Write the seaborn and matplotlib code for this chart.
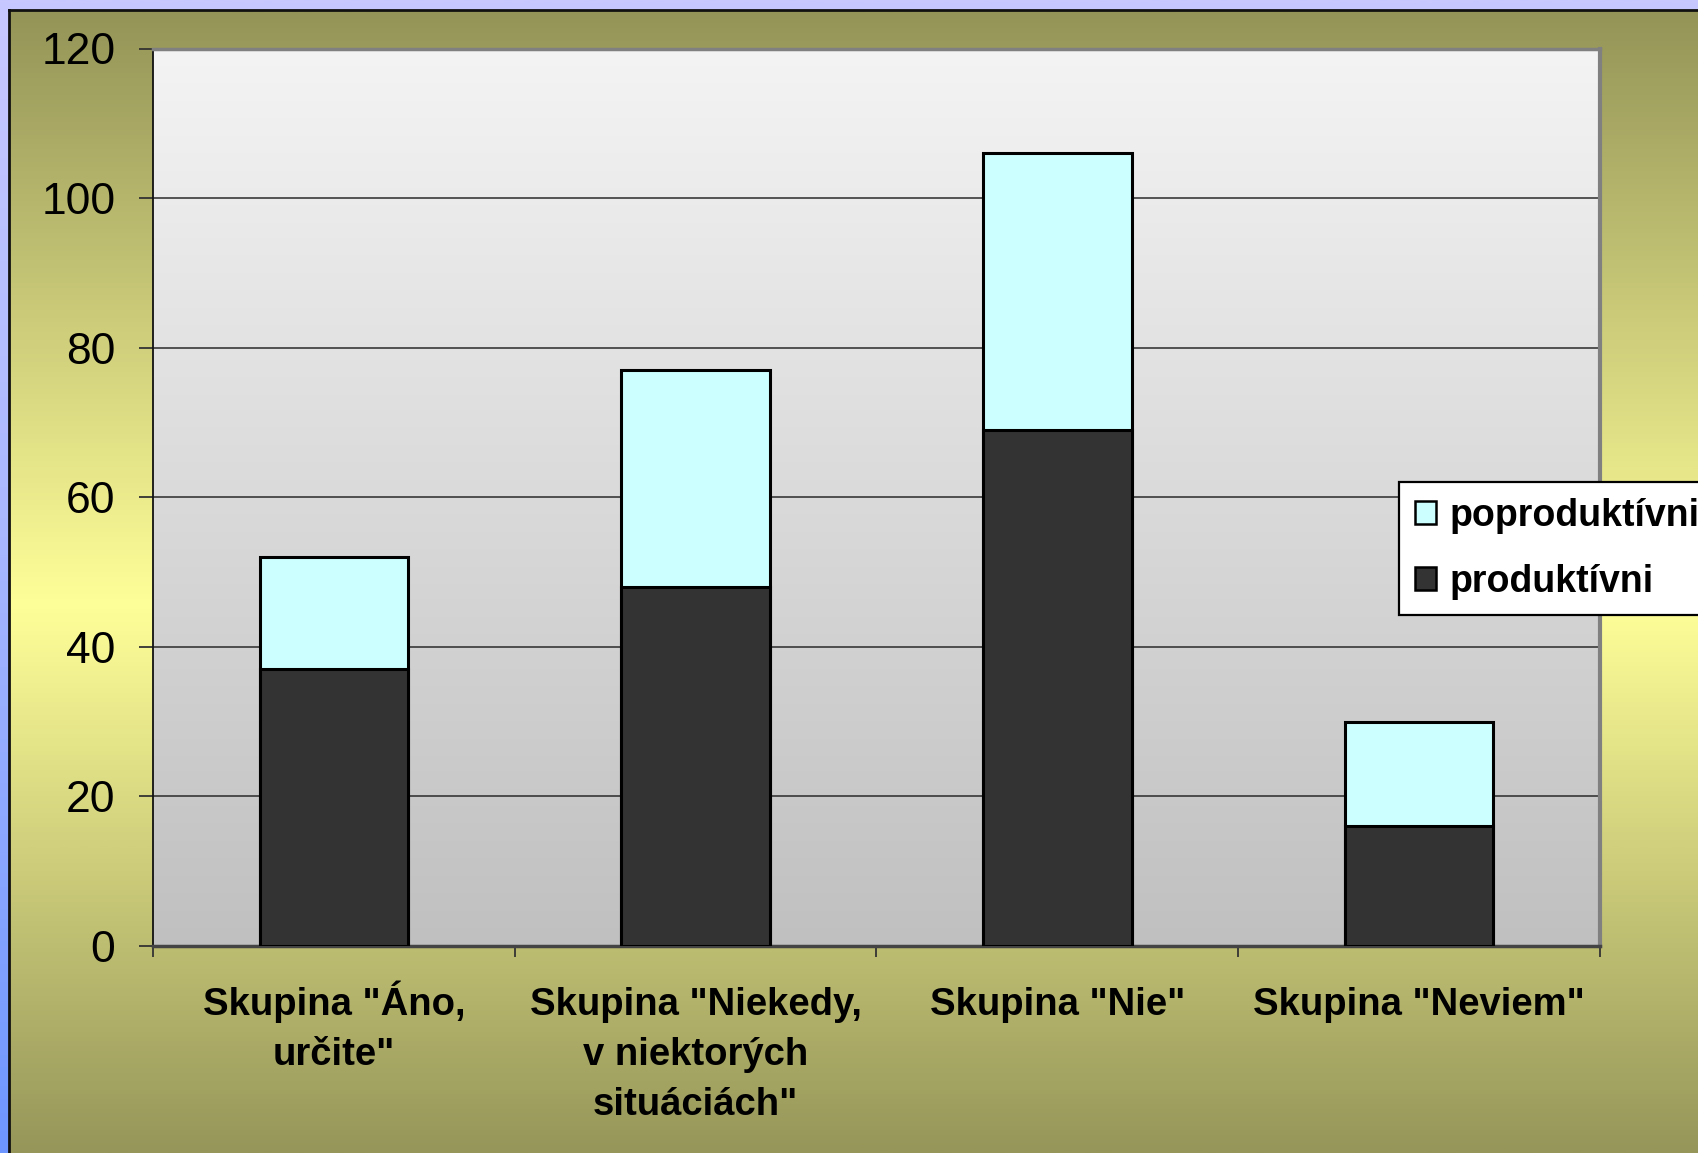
import numpy as np
import pandas as pd
import seaborn as sns
import matplotlib.pyplot as plt
from matplotlib.patches import Patch
from matplotlib.colors import LinearSegmentedColormap

categories = ['Skupina "Áno,\nurčite"',
              'Skupina "Niekedy,\nv niektorých\nsituáciách"',
              'Skupina "Nie"',
              'Skupina "Neviem"']
produktivni = [37, 48, 69, 16]
poproduktivni = [15, 29, 37, 14]
yticks = [0, 20, 40, 60, 80, 100, 120]

df = pd.DataFrame({'skupina': categories,
                   'produktivni': produktivni,
                   'poproduktivni': poproduktivni})
df['spolu'] = df['produktivni'] + df['poproduktivni']

plt.rcParams['font.family'] = ['Liberation Sans', 'DejaVu Sans']

W, H = 1699, 1153
fig = plt.figure(figsize=(W / 100, H / 100), dpi=100)


def gradient_axes(rect, colors, stops=None, zorder=0):
    a = fig.add_axes(rect, zorder=zorder)
    if stops is None:
        cmap = LinearSegmentedColormap.from_list('g', colors)
    else:
        cmap = LinearSegmentedColormap.from_list('g', list(zip(stops, colors)))
    grad = np.linspace(0, 1, 512).reshape(-1, 1)
    a.imshow(grad, aspect='auto', cmap=cmap, extent=[0, 1, 1, 0])
    a.set_xlim(0, 1)
    a.set_ylim(1, 0)
    a.set_xticks([])
    a.set_yticks([])
    return a


# lilac / blue frame behind everything
outer = gradient_axes([0, 0, 1, 1], ['#C8C8FF', '#AAB8FF', '#6E96FF'], [0, 0.45, 1])
for s in outer.spines.values():
    s.set_visible(False)

# olive - yellow - olive area
x0, y0 = 9 / W, 10 / H
olive = gradient_axes([x0, 0, 1 - x0, 1 - y0],
                      ['#949458', '#FFFF99', '#96965A'], [0, 0.52, 1], zorder=1)
for side in ['right', 'bottom']:
    olive.spines[side].set_visible(False)
for side in ['top', 'left']:
    olive.spines[side].set_color('#111111')
    olive.spines[side].set_linewidth(2)

# plot area
left, right = 153 / W, 1600 / W
top, bottom = 1 - 48.5 / H, 1 - 946 / H
rect = [left, bottom, right - left, top - bottom]
plot_bg = gradient_axes(rect, ['#F4F4F4', '#C0C0C0'], zorder=2)
for s in plot_bg.spines.values():
    s.set_visible(False)

ax = fig.add_axes(rect, zorder=3)
ax.set_facecolor('none')

# stacked bars: total first, produktivni on top of it
sns.barplot(data=df, x='skupina', y='spolu', color='#CCFFFF', width=0.41,
            edgecolor='black', linewidth=2.2, saturation=1, ax=ax, zorder=3)
sns.barplot(data=df, x='skupina', y='produktivni', color='#333333', width=0.41,
            edgecolor='black', linewidth=2.2, saturation=1, ax=ax, zorder=4)

ax.set_ylim(0, 120)
ax.set_xlim(-0.5, len(categories) - 0.5)
ax.set_yticks(yticks)
ax.set_yticklabels([str(v) for v in yticks], fontsize=32)
ax.yaxis.grid(True, color='#2a2a2a', linewidth=1.1)
ax.set_axisbelow(True)
ax.tick_params(axis='y', direction='out', length=10, width=1.3,
               color='#333333', pad=17)

# tick marks between categories, labels centred under the bars
ax.set_xticks(np.arange(-0.5, len(categories)))
ax.set_xticklabels([''] * (len(categories) + 1))
ax.tick_params(axis='x', which='major', direction='out', length=8, width=1.3,
               color='#333333')
axis_h = (top - bottom) * H
for i, lab in enumerate(categories):
    for k, line in enumerate(lab.split('\n')):
        ax.text(i, -(69 + 50 * k) / axis_h, line,
                transform=ax.get_xaxis_transform(),
                ha='center', va='baseline',
                fontsize=27.5, fontweight='bold')

ax.set_xlabel('')
ax.set_ylabel('')

ax.spines['left'].set_color('#111111')
ax.spines['left'].set_linewidth(1.3)
ax.spines['bottom'].set_color('#444444')
ax.spines['bottom'].set_linewidth(2.5)
ax.spines['top'].set_color('#808080')
ax.spines['top'].set_linewidth(2.5)
ax.spines['right'].set_color('#808080')
ax.spines['right'].set_linewidth(3)

handles = [Patch(facecolor='#CCFFFF', edgecolor='black', linewidth=1.8, label='poproduktívni'),
           Patch(facecolor='#333333', edgecolor='black', linewidth=1.8, label='produktívni')]
leg = fig.legend(handles=handles, loc='upper left',
                 bbox_to_anchor=(1399 / W, 1 - 482 / H),
                 prop={'size': 27, 'weight': 'bold'},
                 frameon=True, fancybox=False, framealpha=1,
                 edgecolor='black', facecolor='white',
                 handlelength=0.58, handleheight=0.58, handletextpad=0.36,
                 borderpad=0.42, labelspacing=0.8, borderaxespad=0)
leg.get_frame().set_linewidth(1.6)
leg.set_zorder(10)

fig.savefig('out.png', dpi=100)
